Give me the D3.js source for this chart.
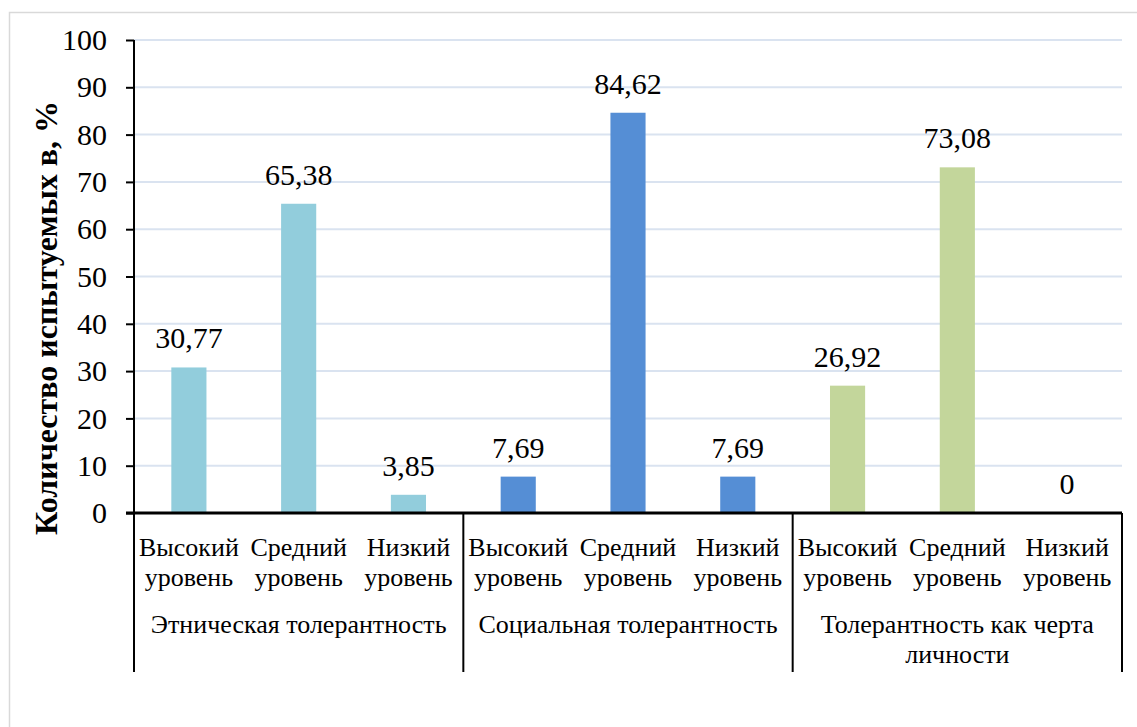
<!DOCTYPE html>
<html>
<head>
<meta charset="utf-8">
<script src="https://cdn.jsdelivr.net/npm/d3@7"></script>
<style>
  html, body { margin: 0; padding: 0; background: #fff; }
  svg { display: block; }
</style>
</head>
<body>
<div id="chart"></div>
<script>
// data
const groups = ['Этническая толерантность', 'Социальная толерантность', 'Толерантность как черта личности']
const levels = ['Высокий уровень', 'Средний уровень', 'Низкий уровень']
const ethnicValues = [30.77, 65.38, 3.85]
const socialValues = [7.69, 84.62, 7.69]
const traitValues = [26.92, 73.08, 0]
const groupColors = ['#92cddc', '#558ed5', '#c3d69b']
const yTicks = [0, 10, 20, 30, 40, 50, 60, 70, 80, 90, 100]
const yTitle = 'Количество испытуемых в, %'

const FONT = 'Liberation Serif'

const seriesValues = [ethnicValues, socialValues, traitValues]
const rows = []
groups.forEach((g, gi) => levels.forEach((l, li) => rows.push({ group: g, gi, level: l, value: seriesValues[gi][li] })))

const W = 1137, H = 727
const m = { left: 134, right: 15, top: 40, bottom: 214 }
const innerW = W - m.left - m.right
const innerH = H - m.top - m.bottom

const svg = d3.select('#chart').append('svg').attr('width', W).attr('height', H)
  .style('font-family', FONT)

// outer frame (only top and left edges are visible)
svg.append('rect').attr('x', 9.5).attr('y', 12.5).attr('width', W + 20).attr('height', H + 20)
  .attr('fill', 'none').attr('stroke', '#d9d9d9').attr('stroke-width', 1.5)

const g = svg.append('g').attr('transform', `translate(${m.left},${m.top})`)

const y = d3.scaleLinear().domain([0, 100]).range([innerH, 0])
const x0 = d3.scaleBand().domain(groups).range([0, innerW])
const x1 = d3.scaleBand().domain(levels).range([0, x0.bandwidth()]).paddingInner(0.68).paddingOuter(0.34)

// gridlines
g.append('g').selectAll('line').data(yTicks.filter(t => t > 0)).join('line')
  .attr('x1', 0).attr('x2', innerW).attr('y1', d => y(d)).attr('y2', d => y(d))
  .attr('stroke', '#dae3f0').attr('stroke-width', 2)

// bars
g.append('g').selectAll('rect').data(rows).join('rect')
  .attr('x', d => x0(d.group) + x1(d.level))
  .attr('width', x1.bandwidth())
  .attr('y', d => y(d.value))
  .attr('height', d => innerH - y(d.value))
  .attr('fill', d => groupColors[d.gi])

// value labels
g.append('g').selectAll('text').data(rows).join('text')
  .attr('x', d => x0(d.group) + x1(d.level) + x1.bandwidth() / 2)
  .attr('y', d => y(d.value) - 19)
  .attr('text-anchor', 'middle')
  .style('font-family', FONT).style('font-size', '30px').attr('fill', '#000')
  .text(d => d3.format('.2f')(d.value).replace('.', ',').replace(/^0,00$/, '0'))

// y axis
const yAxis = g.append('g').call(d3.axisLeft(y).tickValues(yTicks).tickSize(8).tickPadding(19))
yAxis.attr('font-family', null).attr('font-size', null)
yAxis.select('.domain').attr('stroke', '#000').attr('stroke-width', 2).attr('d', `M0,${innerH}V0`)
yAxis.selectAll('.tick line').attr('stroke', '#000').attr('stroke-width', 2)
yAxis.selectAll('.tick text').style('font-size', '30px').style('font-family', FONT).attr('fill', '#000')

// x axis line
g.append('line').attr('x1', -8).attr('x2', innerW).attr('y1', innerH).attr('y2', innerH)
  .attr('stroke', '#000').attr('stroke-width', 3)

// group separators
const sepBottom = 159
const seps = groups.map(d => x0(d)).concat([innerW])
g.append('g').selectAll('line').data(seps).join('line')
  .attr('x1', d => d).attr('x2', d => d).attr('y1', innerH).attr('y2', innerH + sepBottom)
  .attr('stroke', '#000').attr('stroke-width', 2)

// level labels (two lines)
const lvl = g.append('g').selectAll('text').data(rows).join('text')
  .attr('text-anchor', 'middle').style('font-family', FONT).style('font-size', '26px').attr('fill', '#000')
  .attr('transform', d => `translate(${x0(d.group) + x1(d.level) + x1.bandwidth() / 2},${innerH + 43})`)
lvl.each(function (d) {
  const parts = d.level.split(' ')
  d3.select(this).selectAll('tspan').data(parts).join('tspan')
    .attr('x', 0).attr('dy', (p, i) => i === 0 ? 0 : 30).text(p => p)
})

// group labels, wrapped to the group width
const grp = g.append('g').selectAll('text').data(groups).join('text')
  .attr('text-anchor', 'middle').style('font-family', FONT).style('font-size', '26px').attr('fill', '#000')
  .attr('transform', d => `translate(${x0(d) + x0.bandwidth() / 2},${innerH + 120})`)
grp.each(function (d) {
  const el = d3.select(this)
  const words = d.split(' ')
  let line = []
  let tspan = el.append('tspan').attr('x', 0).attr('dy', 0)
  words.forEach(w => {
    line.push(w)
    tspan.text(line.join(' '))
    if (tspan.node().getComputedTextLength() > x0.bandwidth() - 20 && line.length > 1) {
      line.pop()
      tspan.text(line.join(' '))
      line = [w]
      tspan = el.append('tspan').attr('x', 0).attr('dy', 30).text(w)
    }
  })
})

// y axis title
svg.append('text')
  .attr('transform', `translate(57,318) rotate(-90)`)
  .attr('text-anchor', 'middle')
  .style('font-family', FONT).style('font-size', '32px').style('font-weight', 'bold').attr('fill', '#000')
  .text(yTitle)
</script>
</body>
</html>
